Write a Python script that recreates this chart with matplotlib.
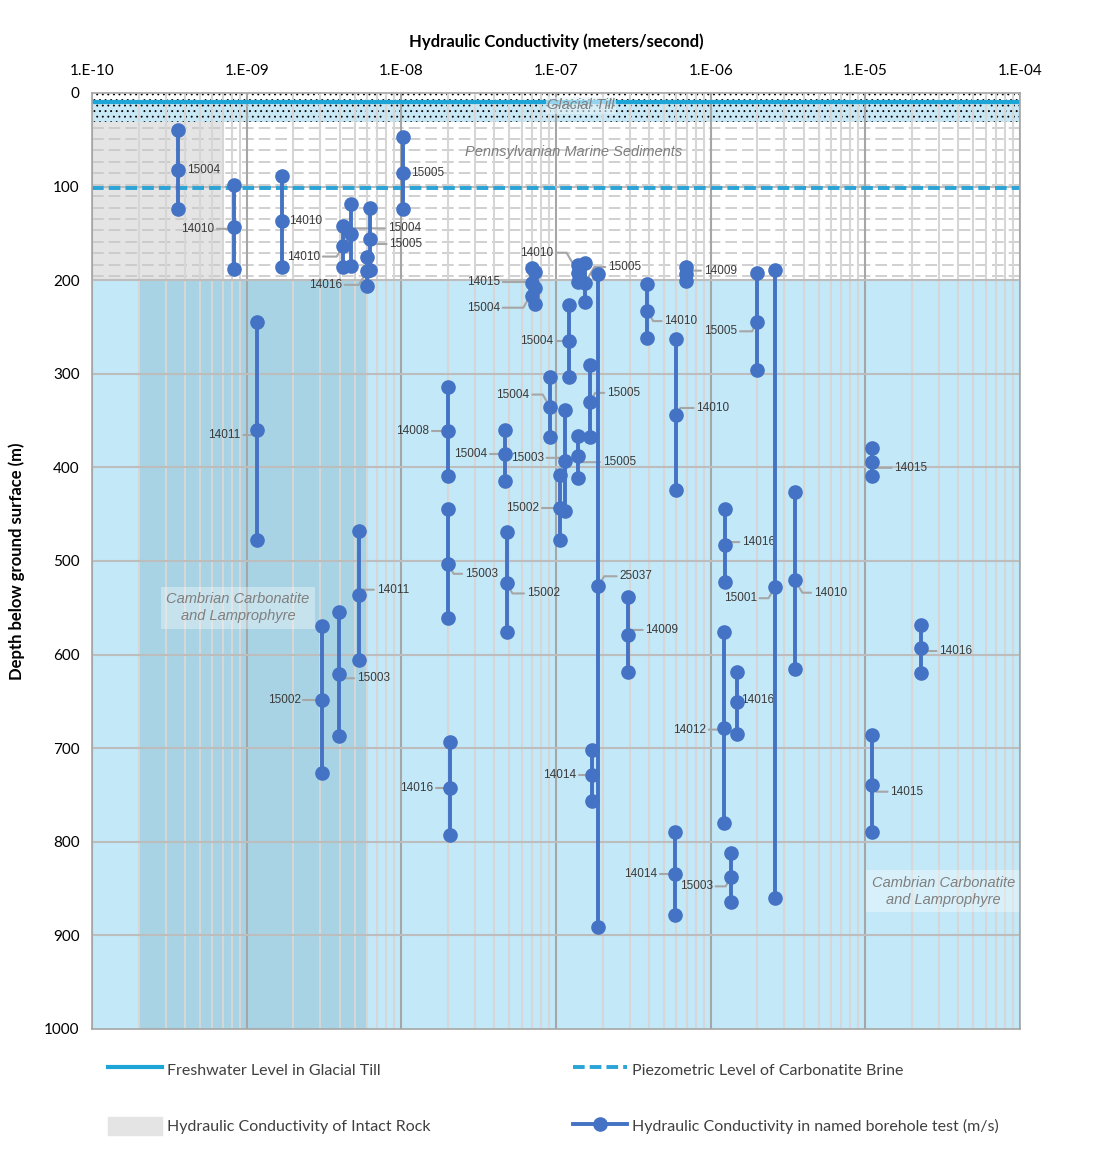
import numpy as np
import matplotlib
matplotlib.use('Agg')
from matplotlib import pyplot as plt
from matplotlib.lines import Line2D
from matplotlib.patches import Patch

# ---- data ----
borehole_ids = ['15004', '14010', '14010', '14010', '15004', '15005', '14016', '15005',
                '14015', '15004', '14010', '15005', '25037', '15004', '15005', '15004',
                '15003', '15002', '15005', '14008', '15004', '14010', '14009', '14010',
                '15005', '15001', '14010', '14016', '14009', '14012', '14016', '14014',
                '14016', '14014', '15003', '14015', '14015', '14016', '14011', '14011',
                '15003', '15002', '15003', '15002']
k_values = [3.6e-10, 8.3e-10, 1.7e-9, 4.2e-9, 4.7e-9, 6.3e-9, 6.0e-9, 1.02e-8,
            7.0e-8, 7.3e-8, 1.39e-7, 1.54e-7, 1.88e-7, 1.21e-7, 1.66e-7, 9.1e-8,
            1.14e-7, 1.06e-7, 1.38e-7, 2.0e-8, 4.7e-8, 3.9e-7, 6.9e-7, 6.0e-7,
            2.0e-6, 2.6e-6, 3.5e-6, 1.24e-6, 2.9e-7, 1.22e-6, 1.47e-6, 1.7e-7,
            2.07e-8, 5.9e-7, 1.35e-6, 1.11e-5, 1.11e-5, 2.3e-5, 1.16e-9, 5.3e-9,
            3.95e-9, 3.05e-9, 2.0e-8, 4.8e-8]
depth_top = [40, 98, 89, 142, 119, 123, 175, 47,
             187, 191, 184, 182, 193, 226, 291, 303,
             339, 408, 366, 314, 360, 204, 186, 263,
             192, 189, 426, 444, 538, 576, 619, 702,
             693, 790, 812, 686, 379, 568, 245, 468,
             554, 569, 444, 469]
depth_mid = [82, 143, 137, 163, 151, 156, 190, 86,
             203, 208, 192, 203, 527, 265, 330, 335,
             393, 443, 388, 361, 386, 233, 193, 344,
             245, 528, 520, 483, 579, 678, 651, 729,
             742, 834, 838, 739, 394, 593, 360, 536,
             621, 648, 503, 524]
depth_bottom = [124, 188, 186, 186, 185, 189, 206, 124,
                217, 225, 202, 223, 891, 303, 368, 367,
                447, 478, 411, 409, 414, 262, 201, 424,
                296, 860, 615, 522, 619, 780, 685, 756,
                793, 878, 864, 790, 409, 620, 478, 606,
                687, 727, 561, 576]

freshwater_depth = 10
piezometric_depth = 102
till_base = 31
sediment_base = 200
intact_sediments = (1e-10, 7e-10)
intact_carbonatite = (2e-10, 6.1e-9)

x_ticks = [1e-10, 1e-9, 1e-8, 1e-7, 1e-6, 1e-5, 1e-4]
x_tick_labels = ['1.E-10', '1.E-09', '1.E-08', '1.E-07', '1.E-06', '1.E-05', '1.E-04']
y_ticks = list(range(0, 1001, 100))

# label placement (pixel offsets from the middle point)
label_offsets = [(9, 0), (-20, 2), (7, 0), (-23, 11), (37, -6), (19, 5), (-25, 14), (8, 0),
                 (-32, -1), (-35, 20), (-25, -20), (23, -16), (21, -10), (-16, 0), (17, -9), (-20, -12),
                 (-21, -3), (-21, 0), (25, 6), (-19, 0), (-18, 0), (17, 10), (18, -3), (20, -7),
                 (-20, 9), (-18, 11), (19, 13), (17, -3), (18, -5), (-18, 2), (5, -2), (-15, 0),
                 (-17, 0), (-18, 0), (-18, 9), (18, 7), (22, 6), (18, 3), (-16, 5), (18, -5),
                 (18, 4), (-21, 0), (17, 10), (20, 10)]

BLUE = '#4472c4'
FRESH = '#1ea5d8'
LABEL_FONT = ['Liberation Sans Narrow', 'Liberation Sans', 'DejaVu Sans']

plt.rcParams['font.family'] = ['Lato', 'DejaVu Sans']
plt.rcParams['hatch.linewidth'] = 0.6
plt.rcParams['hatch.color'] = '#8c8c8c'

fig = plt.figure(figsize=(11.08, 11.67), dpi=100)
ax = fig.add_axes([92 / 1108, 1 - 1029 / 1167, 928 / 1108, 936 / 1167])
ax.set_xscale('log')
ax.set_xlim(1e-10, 1e-4)
ax.set_ylim(1000, 0)

# background layers
ax.fill_between([1e-10, 1e-4], sediment_base, 1000, color='#c3e8f8', lw=0, zorder=0.5)
ax.fill_between(intact_carbonatite, sediment_base, 1000, color='#a8d3e4', lw=0, zorder=0.6)
ax.fill_between(intact_sediments, till_base, sediment_base, color='#e4e4e4', lw=0, zorder=0.6)
ax.fill_between([1e-10, 1e-4], freshwater_depth, till_base, color='#c8e8f5', lw=0, zorder=0.6)
ax.fill_between([1e-10, 1e-4], 0, till_base, facecolor='none', hatch='...', lw=0, zorder=0.7)
ax.hlines(np.arange(till_base + 6, sediment_base, 12.2), 1e-10, 1e-4, color='#c8c8c8', lw=1.2,
          linestyles=(0, (7, 3)), zorder=0.8)

# grid
minor = [m * 10.0 ** d for d in range(-10, -4) for m in range(2, 10)]
ax.vlines(minor, 0, 1000, color='#d6d6d6', lw=1.5, zorder=1)
ax.vlines(x_ticks, 0, 1000, color='#a6a6a6', lw=1.5, zorder=1.1)
ax.hlines(y_ticks[1:-1], 1e-10, 1e-4, color='#bdbdbd', lw=1.5, zorder=1.1)

# water levels
ax.axhline(freshwater_depth, color=FRESH, lw=3, zorder=2)
ax.axhline(piezometric_depth, color='#2aa4d6', lw=2.8, ls=(0, (3.0, 1.3)), zorder=2)

# region labels
ax.text(1.45e-7, 13, 'Glacial Till', style='italic', color='#7f7f7f', fontsize=10.5,
        family=LABEL_FONT[1:], ha='center', va='center', zorder=2.5,
        bbox=dict(fc='#e6f4fa', ec='none', alpha=0.6, pad=1))
ax.text(1.3e-7, 63, 'Pennsylvanian Marine Sediments', style='italic', color='#7f7f7f',
        fontsize=10.5, family=LABEL_FONT[1:], ha='center', va='center', zorder=2.5)
for kx, dy in [(8.8e-10, 550), (3.2e-5, 853)]:
    ax.text(kx, dy, 'Cambrian Carbonatite\nand Lamprophyre', style='italic', color='#7f7f7f',
            fontsize=10.5, family=LABEL_FONT[1:], ha='center', va='center', zorder=2.5,
            linespacing=1.25, bbox=dict(fc='white', ec='none', alpha=0.35, pad=4))

# borehole tests
for i, bid in enumerate(borehole_ids):
    k = k_values[i]
    ds = [depth_top[i], depth_mid[i], depth_bottom[i]]
    ax.plot([k, k, k], ds, color=BLUE, lw=2.8, marker='o', ms=9.5, zorder=4)
    dx, dy = label_offsets[i]
    ox, oy = dx * 0.72, -dy * 0.72
    angb = 60 if (ox > 0) == (oy > 0) else 120
    ax.annotate(bid, xy=(k, depth_mid[i]), xytext=(ox, oy), textcoords='offset points',
                ha='left' if dx > 0 else 'right', va='center', fontsize=8.5,
                family=LABEL_FONT, color='#3a3a3a', zorder=3,
                arrowprops=dict(arrowstyle='-', color='#a6a6a6', lw=1.5, shrinkA=0, shrinkB=0,
                                connectionstyle='angle,angleA=0,angleB=%d,rad=0' % angb))

# axes
ax.xaxis.tick_top()
ax.xaxis.set_label_position('top')
ax.set_xticks(x_ticks)
ax.set_xticklabels(x_tick_labels)
ax.minorticks_off()
ax.set_yticks(y_ticks)
ax.tick_params(length=0, labelsize=11, colors='black', pad=9)
ax.tick_params(axis='x', pad=11)
ax.set_xlabel('Hydraulic Conductivity (meters/second)', fontsize=12, fontweight='bold', labelpad=12)
ax.set_ylabel('Depth below ground surface (m)', fontsize=12, fontweight='bold', labelpad=14)
for s in ax.spines.values():
    s.set_color('#a6a6a6')
    s.set_linewidth(1.2)

# legend
h_fresh = Line2D([], [], color=FRESH, lw=3)
h_intact = Patch(color='#e4e4e4')
h_piezo = Line2D([], [], color='#2aa4d6', lw=2.8, ls=(0, (3.0, 1.3)))
h_bh = Line2D([], [], color=BLUE, lw=2.8, marker='o', ms=9.5)
leg_kw = dict(frameon=False, fontsize=11.5, handlelength=3.4, handleheight=1.4,
              handletextpad=0.3, labelspacing=2.4, borderpad=0, borderaxespad=0,
              loc='upper left', labelcolor='#404040')
fig.legend([h_fresh, h_intact],
           ['Freshwater Level in Glacial Till', 'Hydraulic Conductivity of Intact Rock'],
           bbox_to_anchor=(108 / 1108, 1 - 1060 / 1167), **leg_kw)
fig.legend([h_piezo, h_bh],
           ['Piezometric Level of Carbonatite Brine', 'Hydraulic Conductivity in named borehole test (m/s)'],
           bbox_to_anchor=(573 / 1108, 1 - 1060 / 1167), **leg_kw)

fig.savefig('out.png', dpi=100)
